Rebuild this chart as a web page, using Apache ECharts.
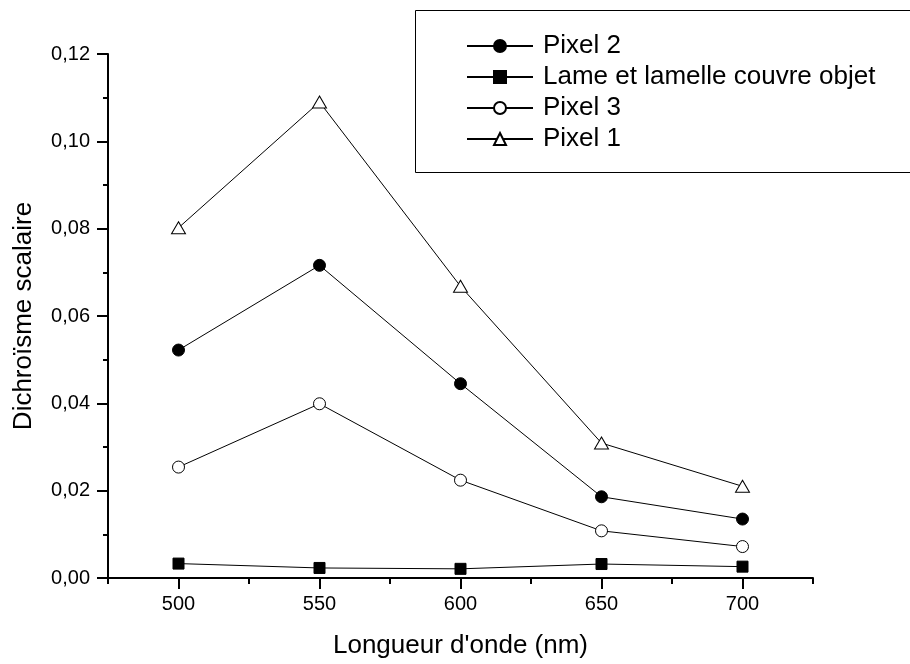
<!DOCTYPE html>
<html>
<head>
<meta charset="utf-8">
<script src="https://cdn.jsdelivr.net/npm/echarts@6/dist/echarts.min.js"></script>
<style>
html,body{margin:0;padding:0;background:#fff;}
#chart{width:910px;height:664px;}
</style>
</head>
<body>
<div id="chart"></div>
<script>
const wavelengths = [500, 550, 600, 650, 700];
const pixel2 = [0.0522, 0.0716, 0.0445, 0.0186, 0.0135];
const lame = [0.0033, 0.0023, 0.0021, 0.0032, 0.0026];
const pixel3 = [0.0254, 0.0399, 0.0224, 0.0108, 0.0072];
const pixel1 = [0.0802, 0.1090, 0.0668, 0.0309, 0.0210];
const xMajorTicks = [500, 550, 600, 650, 700];
const xMinorTicks = [475, 525, 575, 625, 675, 725];
const seriesNames = ['Pixel 2', 'Lame et lamelle couvre objet', 'Pixel 3', 'Pixel 1'];

const FONT = "'Liberation Sans', Arial, Helvetica, sans-serif";
function pairs(vals) { return wavelengths.map((w, i) => [w, vals[i]]); }

const chart = echarts.init(document.getElementById('chart'), null, {renderer: 'canvas'});
const lineStyle = {color: '#000', width: 1};
chart.setOption({
  animation: false,
  backgroundColor: '#fff',
  textStyle: {fontFamily: FONT, color: '#000'},
  grid: {left: 108, right: 97, top: 54, bottom: 86, containLabel: false},
  graphic: [{
    type: 'rect', z: 0,
    shape: {x: 415.5, y: 10.5, width: 600, height: 162},
    style: {fill: '#fff', stroke: '#000', lineWidth: 1}
  }],
  legend: {
    orient: 'vertical', left: 466, top: 33, padding: 0, itemWidth: 66, itemHeight: 15, itemGap: 5,
    z: 5,
    textStyle: {fontFamily: FONT, fontSize: 26, color: '#000', padding: [0, 0, 0, 5]},
    data: seriesNames
  },
  xAxis: [{
    type: 'value', min: 475, max: 725, interval: 25,
    name: "Longueur d'onde (nm)", nameLocation: 'middle', nameGap: 55,
    nameTextStyle: {fontFamily: FONT, fontSize: 26, color: '#000'},
    axisLine: {onZero: false, lineStyle: {color: '#000', width: 2}},
    axisTick: {show: true, inside: false, length: 11, lineStyle: {color: '#000', width: 2}, customValues: xMajorTicks},
    axisLabel: {fontFamily: FONT, fontSize: 20, color: '#000', margin: 16, customValues: xMajorTicks},
    splitLine: {show: false}
  }, {
    type: 'value', min: 475, max: 725, interval: 25, position: 'bottom',
    axisLine: {show: false, onZero: false},
    axisTick: {show: true, inside: false, length: 6, lineStyle: {color: '#000', width: 2}, customValues: xMinorTicks},
    axisLabel: {show: false},
    splitLine: {show: false}
  }],
  yAxis: {
    type: 'value', min: 0, max: 0.12, interval: 0.02,
    name: 'Dichroïsme scalaire', nameLocation: 'middle', nameGap: 71,
    nameTextStyle: {fontFamily: FONT, fontSize: 26, color: '#000'},
    axisLine: {show: true, onZero: false, lineStyle: {color: '#000', width: 2}},
    axisTick: {show: true, inside: false, length: 11, lineStyle: {color: '#000', width: 2}},
    minorTick: {show: true, splitNumber: 2, length: 5, lineStyle: {color: '#000', width: 2}},
    axisLabel: {fontFamily: FONT, fontSize: 20, color: '#000', margin: 18,
      formatter: v => v.toFixed(2).replace('.', ',')},
    splitLine: {show: false}, minorSplitLine: {show: false}
  },
  series: [
    {name: seriesNames[0], type: 'line', data: pairs(pixel2), symbol: 'circle', symbolSize: 12,
     lineStyle: lineStyle, itemStyle: {color: '#000', borderColor: '#000', borderWidth: 1}, z: 3},
    {name: seriesNames[1], type: 'line', data: pairs(lame), symbol: 'rect', symbolSize: 11,
     lineStyle: lineStyle, itemStyle: {color: '#000', borderColor: '#000', borderWidth: 1}, z: 3},
    {name: seriesNames[2], type: 'line', data: pairs(pixel3), symbol: 'circle', symbolSize: 12,
     lineStyle: lineStyle, itemStyle: {color: '#fff', borderColor: '#000', borderWidth: 1}, z: 3},
    {name: seriesNames[3], type: 'line', data: pairs(pixel1), symbol: 'triangle', symbolSize: [14, 12],
     lineStyle: lineStyle, itemStyle: {color: '#fff', borderColor: '#000', borderWidth: 1}, z: 3}
  ]
});
</script>
</body>
</html>
